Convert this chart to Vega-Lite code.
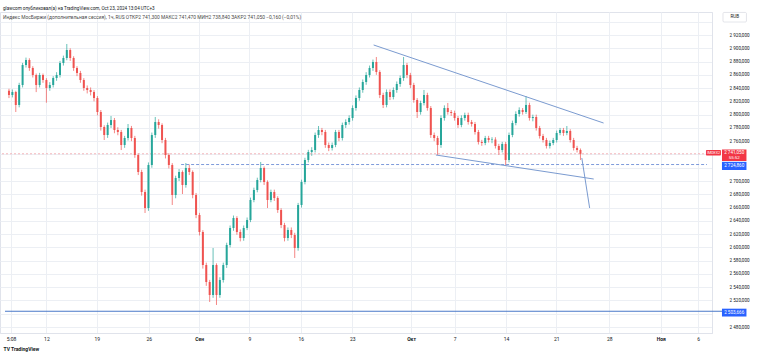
{
"$schema": "https://vega.github.io/schema/vega-lite/v6.json",
"width": 712, "height": 321,
"autosize": {"type": "none"},
"padding": {"left": 0, "top": 12, "right": 46, "bottom": 25},
"background": "white",
"config": {"font": "Roboto", "view": {"stroke": "#e0e3eb"}, "axis": {"labelOverlap": false}},
"title": {"text": "glawcom опубликовал(а) на TradingView.com, Oct 23, 2024 13:04 UTC+3", "subtitle": "Индекс МосБиржи (дополнительная сессия), 1ч, RUS   ОТКР2 741,300  МАКС2 741,470  МИН2 738,840  ЗАКР2 741,050  −0,160 (−0,01%)", "anchor": "start", "frame": "group", "fontSize": 4.6, "fontWeight": "normal", "color": "#131722", "subtitleFontSize": 4.9, "subtitleColor": "#4a4a4a", "subtitlePadding": 5, "offset": -8, "dx": 3},
"datasets": {
"candles": [
{"i":-11,"o":2836,"h":2839,"l":2825,"c":2829.6},
{"i":-10,"o":2829.6,"h":2838,"l":2826,"c":2834.1},
{"i":-9,"o":2834.1,"h":2836,"l":2804,"c":2814.6},
{"i":-8,"o":2814.6,"h":2848,"l":2811,"c":2844.7},
{"i":-7,"o":2844.7,"h":2878,"l":2841,"c":2874.8},
{"i":-6,"o":2874.8,"h":2886,"l":2871,"c":2882.4},
{"i":-5,"o":2882.4,"h":2885,"l":2866,"c":2870.3},
{"i":-4,"o":2870.3,"h":2873,"l":2856,"c":2859.8},
{"i":-3,"o":2859.8,"h":2862,"l":2834,"c":2844.7},
{"i":-2,"o":2844.7,"h":2863,"l":2841,"c":2859.8},
{"i":-1,"o":2859.8,"h":2862,"l":2848,"c":2852.2},
{"i":0,"o":2852.2,"h":2855,"l":2818,"c":2840.2},
{"i":1,"o":2840.2,"h":2849,"l":2836,"c":2844.7},
{"i":2,"o":2844.7,"h":2858,"l":2841,"c":2855.2},
{"i":3,"o":2855.2,"h":2864,"l":2851,"c":2859.8},
{"i":4,"o":2859.8,"h":2881,"l":2856,"c":2877.8},
{"i":5,"o":2877.8,"h":2889,"l":2874,"c":2885.4},
{"i":6,"o":2885.4,"h":2906.5,"l":2882,"c":2897.4},
{"i":7,"o":2897.4,"h":2900,"l":2881,"c":2885.4},
{"i":8,"o":2885.4,"h":2888,"l":2866,"c":2870.3},
{"i":9,"o":2870.3,"h":2873,"l":2858,"c":2862.8},
{"i":10,"o":2862.8,"h":2866,"l":2848,"c":2852.2},
{"i":11,"o":2852.2,"h":2855,"l":2836,"c":2840.2},
{"i":12,"o":2840.2,"h":2844,"l":2832,"c":2837.2},
{"i":13,"o":2837.2,"h":2841,"l":2829,"c":2834.1},
{"i":14,"o":2834.1,"h":2837,"l":2820,"c":2825.1},
{"i":15,"o":2825.1,"h":2828,"l":2799,"c":2804.0},
{"i":16,"o":2804.0,"h":2807,"l":2776,"c":2781.4},
{"i":17,"o":2781.4,"h":2784,"l":2761.8,"c":2769.3},
{"i":18,"o":2769.3,"h":2788,"l":2765,"c":2784.4},
{"i":19,"o":2784.4,"h":2798,"l":2780,"c":2791.9},
{"i":20,"o":2791.9,"h":2795,"l":2772,"c":2776.9},
{"i":21,"o":2776.9,"h":2781,"l":2769,"c":2773.9},
{"i":22,"o":2773.9,"h":2777,"l":2746.7,"c":2754.3},
{"i":23,"o":2754.3,"h":2768,"l":2750,"c":2764.8},
{"i":24,"o":2764.8,"h":2785.9,"l":2761,"c":2779.9},
{"i":25,"o":2779.9,"h":2783,"l":2760,"c":2764.8},
{"i":26,"o":2764.8,"h":2768,"l":2735,"c":2739.2},
{"i":27,"o":2739.2,"h":2742,"l":2709,"c":2713.6},
{"i":28,"o":2713.6,"h":2717,"l":2678,"c":2683.4},
{"i":29,"o":2683.4,"h":2687,"l":2651.8,"c":2659.3},
{"i":30,"o":2659.3,"h":2728,"l":2655,"c":2724.1},
{"i":31,"o":2724.1,"h":2773,"l":2720,"c":2769.3},
{"i":32,"o":2769.3,"h":2796.5,"l":2765,"c":2788.9},
{"i":33,"o":2788.9,"h":2793,"l":2779,"c":2784.4},
{"i":34,"o":2784.4,"h":2787,"l":2757,"c":2761.8},
{"i":35,"o":2761.8,"h":2765,"l":2734,"c":2739.2},
{"i":36,"o":2739.2,"h":2742,"l":2719,"c":2724.1},
{"i":37,"o":2724.1,"h":2727,"l":2663.9,"c":2678.9},
{"i":38,"o":2678.9,"h":2708,"l":2674,"c":2704.5},
{"i":39,"o":2704.5,"h":2718,"l":2700,"c":2713.6},
{"i":40,"o":2713.6,"h":2716,"l":2680.4,"c":2694.0},
{"i":41,"o":2694.0,"h":2727.1,"l":2690,"c":2719.6},
{"i":42,"o":2719.6,"h":2724.9,"l":2709,"c":2713.6},
{"i":43,"o":2713.6,"h":2716,"l":2674,"c":2678.9},
{"i":44,"o":2678.9,"h":2682,"l":2644,"c":2648.8},
{"i":45,"o":2648.8,"h":2652,"l":2618,"c":2623.2},
{"i":46,"o":2623.2,"h":2626,"l":2568,"c":2573.4},
{"i":47,"o":2573.4,"h":2577,"l":2542,"c":2547.8},
{"i":48,"o":2547.8,"h":2551,"l":2517.7,"c":2528.2},
{"i":49,"o":2528.2,"h":2599.1,"l":2524,"c":2573.4},
{"i":50,"o":2573.4,"h":2576,"l":2513.2,"c":2528.2},
{"i":51,"o":2528.2,"h":2555,"l":2524,"c":2550.8},
{"i":52,"o":2550.8,"h":2577,"l":2547,"c":2573.4},
{"i":53,"o":2573.4,"h":2607,"l":2569,"c":2603.6},
{"i":54,"o":2603.6,"h":2633,"l":2600,"c":2629.2},
{"i":55,"o":2629.2,"h":2648,"l":2625,"c":2644.3},
{"i":56,"o":2644.3,"h":2647,"l":2619,"c":2623.2},
{"i":57,"o":2623.2,"h":2627,"l":2609,"c":2614.1},
{"i":58,"o":2614.1,"h":2633,"l":2610,"c":2629.2},
{"i":59,"o":2629.2,"h":2645,"l":2626,"c":2641.2},
{"i":60,"o":2641.2,"h":2675,"l":2638,"c":2671.4},
{"i":61,"o":2671.4,"h":2690,"l":2668,"c":2686.5},
{"i":62,"o":2686.5,"h":2705,"l":2683,"c":2701.5},
{"i":63,"o":2701.5,"h":2728.7,"l":2698,"c":2719.6},
{"i":64,"o":2719.6,"h":2722,"l":2694,"c":2698.5},
{"i":65,"o":2698.5,"h":2701,"l":2659.3,"c":2671.4},
{"i":66,"o":2671.4,"h":2687,"l":2668,"c":2683.4},
{"i":67,"o":2683.4,"h":2687,"l":2670,"c":2674.4},
{"i":68,"o":2674.4,"h":2677,"l":2652,"c":2656.3},
{"i":69,"o":2656.3,"h":2659,"l":2629,"c":2633.7},
{"i":70,"o":2633.7,"h":2637,"l":2609,"c":2614.1},
{"i":71,"o":2614.1,"h":2630,"l":2610,"c":2626.2},
{"i":72,"o":2626.2,"h":2630,"l":2614,"c":2618.6},
{"i":73,"o":2618.6,"h":2622,"l":2584.0,"c":2599.1},
{"i":74,"o":2599.1,"h":2667,"l":2595,"c":2663.9},
{"i":75,"o":2663.9,"h":2702,"l":2660,"c":2698.5},
{"i":76,"o":2698.5,"h":2735,"l":2695,"c":2731.7},
{"i":77,"o":2731.7,"h":2747,"l":2728,"c":2743.7},
{"i":78,"o":2743.7,"h":2751,"l":2738,"c":2746.7},
{"i":79,"o":2746.7,"h":2773,"l":2743,"c":2769.3},
{"i":80,"o":2769.3,"h":2782.9,"l":2765,"c":2776.9},
{"i":81,"o":2776.9,"h":2780,"l":2769,"c":2773.9},
{"i":82,"o":2773.9,"h":2777,"l":2750,"c":2754.3},
{"i":83,"o":2754.3,"h":2758,"l":2745,"c":2749.8},
{"i":84,"o":2749.8,"h":2758,"l":2746,"c":2754.3},
{"i":85,"o":2754.3,"h":2777,"l":2751,"c":2773.9},
{"i":86,"o":2773.9,"h":2777,"l":2760,"c":2764.8},
{"i":87,"o":2764.8,"h":2788,"l":2761,"c":2784.4},
{"i":88,"o":2784.4,"h":2793,"l":2780,"c":2788.9},
{"i":89,"o":2788.9,"h":2799,"l":2785,"c":2795.0},
{"i":90,"o":2795.0,"h":2814,"l":2791,"c":2810.0},
{"i":91,"o":2810.0,"h":2829,"l":2806,"c":2825.1},
{"i":92,"o":2825.1,"h":2841,"l":2821,"c":2837.2},
{"i":93,"o":2837.2,"h":2853,"l":2833,"c":2849.2},
{"i":94,"o":2849.2,"h":2864,"l":2845,"c":2859.8},
{"i":95,"o":2859.8,"h":2874,"l":2856,"c":2870.3},
{"i":96,"o":2870.3,"h":2883,"l":2866,"c":2879.4},
{"i":97,"o":2879.4,"h":2886.9,"l":2860,"c":2864.3},
{"i":98,"o":2864.3,"h":2867,"l":2825,"c":2829.6},
{"i":99,"o":2829.6,"h":2833,"l":2810.0,"c":2814.6},
{"i":100,"o":2814.6,"h":2838,"l":2811,"c":2834.1},
{"i":101,"o":2834.1,"h":2838,"l":2822,"c":2826.6},
{"i":102,"o":2826.6,"h":2841,"l":2823,"c":2837.2},
{"i":103,"o":2837.2,"h":2850,"l":2833,"c":2846.2},
{"i":104,"o":2846.2,"h":2859,"l":2842,"c":2855.2},
{"i":105,"o":2855.2,"h":2886.9,"l":2851,"c":2874.8},
{"i":106,"o":2874.8,"h":2878,"l":2855,"c":2859.8},
{"i":107,"o":2859.8,"h":2863,"l":2840,"c":2844.7},
{"i":108,"o":2844.7,"h":2848,"l":2818,"c":2822.1},
{"i":109,"o":2822.1,"h":2825,"l":2795.0,"c":2804.0},
{"i":110,"o":2804.0,"h":2821,"l":2800,"c":2817.6},
{"i":111,"o":2817.6,"h":2837.2,"l":2814,"c":2829.6},
{"i":112,"o":2829.6,"h":2833,"l":2806,"c":2810.0},
{"i":113,"o":2810.0,"h":2813,"l":2765,"c":2769.3},
{"i":114,"o":2769.3,"h":2773,"l":2760,"c":2764.8},
{"i":115,"o":2764.8,"h":2768,"l":2739.2,"c":2754.3},
{"i":116,"o":2754.3,"h":2799,"l":2750,"c":2795.0},
{"i":117,"o":2795.0,"h":2814,"l":2791,"c":2810.0},
{"i":118,"o":2810.0,"h":2817.6,"l":2800,"c":2804.0},
{"i":119,"o":2804.0,"h":2807,"l":2798,"c":2802.5},
{"i":120,"o":2802.5,"h":2806,"l":2791,"c":2795.0},
{"i":121,"o":2795.0,"h":2798,"l":2780,"c":2784.4},
{"i":122,"o":2784.4,"h":2799,"l":2781,"c":2795.0},
{"i":123,"o":2795.0,"h":2803,"l":2791,"c":2799.5},
{"i":124,"o":2799.5,"h":2803,"l":2785,"c":2788.9},
{"i":125,"o":2788.9,"h":2792,"l":2782,"c":2785.9},
{"i":126,"o":2785.9,"h":2789,"l":2770,"c":2773.9},
{"i":127,"o":2773.9,"h":2777,"l":2755,"c":2758.8},
{"i":128,"o":2758.8,"h":2762,"l":2753,"c":2757.3},
{"i":129,"o":2757.3,"h":2768,"l":2754,"c":2764.8},
{"i":130,"o":2764.8,"h":2768,"l":2758,"c":2761.8},
{"i":131,"o":2761.8,"h":2766,"l":2757,"c":2762.5},
{"i":132,"o":2762.5,"h":2766,"l":2749,"c":2752.8},
{"i":133,"o":2752.8,"h":2756,"l":2739.2,"c":2746.7},
{"i":134,"o":2746.7,"h":2759,"l":2743,"c":2755.8},
{"i":135,"o":2755.8,"h":2759,"l":2722.6,"c":2731.7},
{"i":136,"o":2731.7,"h":2773,"l":2728,"c":2769.3},
{"i":137,"o":2769.3,"h":2791,"l":2766,"c":2787.4},
{"i":138,"o":2787.4,"h":2805,"l":2784,"c":2801.0},
{"i":139,"o":2801.0,"h":2811,"l":2797,"c":2807.0},
{"i":140,"o":2807.0,"h":2810,"l":2800,"c":2804.0},
{"i":141,"o":2804.0,"h":2828.1,"l":2801,"c":2814.6},
{"i":142,"o":2814.6,"h":2818,"l":2791,"c":2795.0},
{"i":143,"o":2795.0,"h":2800,"l":2790,"c":2796.5},
{"i":144,"o":2796.5,"h":2800,"l":2776,"c":2779.9},
{"i":145,"o":2779.9,"h":2783,"l":2764,"c":2767.8},
{"i":146,"o":2767.8,"h":2771,"l":2758,"c":2761.8},
{"i":147,"o":2761.8,"h":2765,"l":2749,"c":2752.8},
{"i":148,"o":2752.8,"h":2761,"l":2749,"c":2757.3},
{"i":149,"o":2757.3,"h":2765,"l":2754,"c":2761.8},
{"i":150,"o":2761.8,"h":2776,"l":2758,"c":2772.4},
{"i":151,"o":2772.4,"h":2780,"l":2769,"c":2776.9},
{"i":152,"o":2776.9,"h":2780,"l":2768,"c":2772.4},
{"i":153,"o":2772.4,"h":2782.9,"l":2769,"c":2775.4},
{"i":154,"o":2775.4,"h":2778,"l":2758,"c":2761.8},
{"i":155,"o":2761.8,"h":2765,"l":2746,"c":2749.8},
{"i":156,"o":2749.8,"h":2753,"l":2743,"c":2746.7},
{"i":157,"o":2746.7,"h":2749,"l":2731.7,"c":2741.05}
],
"trend": [
{"ln":"a","i":96.2,"p":2905.0},{"ln":"a","i":163.8,"p":2787.4},
{"ln":"b","i":114.5,"p":2739.2},{"ln":"b","i":160.9,"p":2703.0},
{"ln":"c","i":157.4,"p":2734.7},{"ln":"c","i":159.7,"p":2659.3}
]
},
"layer": [
{"data": {"name": "candles"},
 "mark": {"type": "rule", "strokeWidth": 0.7},
 "encoding": {
  "x": {"field": "i", "type": "quantitative", "scale": {"domain": [-12.17, 194.2], "nice": false, "zero": false},
   "axis": {"values": [-10.4, 0, 14.8, 30.1, 44.9, 59.7, 74.8, 89.9, 107.2, 120, 135.1, 149.9, 165.5, 180.6, 191.6], "tickCount": 100,
    "labelExpr": "datum.value < -5 ? '5:08' : datum.value == 0 ? '12' : datum.value == 14.8 ? '19' : datum.value == 30.1 ? '26' : datum.value == 44.9 ? 'Сен' : datum.value == 59.7 ? '9' : datum.value == 74.8 ? '16' : datum.value == 89.9 ? '23' : datum.value == 107.2 ? 'Окт' : datum.value == 120 ? '7' : datum.value == 135.1 ? '14' : datum.value == 149.9 ? '21' : datum.value == 165.5 ? '28' : datum.value == 180.6 ? 'Ноя' : '6'",
    "labelFontWeight": {"condition": {"test": "datum.value == 44.9 || datum.value == 107.2 || datum.value == 180.6", "value": "bold"}, "value": "normal"},
    "labelFontSize": 5, "labelColor": "#131722", "labelPadding": 3, "ticks": false, "domainColor": "#e0e3eb", "gridColor": "#eceff4", "grid": true, "labelOverlap": false, "labelFlush": false,
    "title": "TV TradingView", "titleFontSize": 5, "titleFontWeight": "bold", "titleColor": "#131722", "titleAnchor": "start", "titleAlign": "left", "titleX": 3, "titlePadding": 5}},
  "y": {"field": "l", "type": "quantitative", "scale": {"domain": [2470.96, 2954.7], "nice": false, "zero": false},
   "axis": {"orient": "right", "values": [2480, 2500, 2520, 2540, 2560, 2580, 2600, 2620, 2640, 2660, 2680, 2700, 2720, 2740, 2760, 2780, 2800, 2820, 2840, 2860, 2880, 2900, 2920, 2940], "tickCount": 100,
    "labelExpr": "indexof([2500, 2720, 2740, 2940], datum.value) >= 0 ? '' : replace(replace(format(datum.value, ',.3f'), ',', ' '), '.', ',')",
    "labelFontSize": 4.6, "labelColor": "#131722", "labelAlign": "left", "labelPadding": 17, "ticks": false, "domainColor": "#e0e3eb", "gridColor": "#eceff4", "grid": true, "labelOverlap": false, "title": null}},
  "y2": {"field": "h"},
  "color": {"condition": {"test": "datum.c >= datum.o", "value": "#26a69a"}, "value": "#ef5350"}}},
{"data": {"values": [{"price": 2741.05}]},
 "mark": {"type": "rule", "color": "#f3a5ab", "strokeWidth": 0.8, "strokeDash": [2, 2]},
 "encoding": {"y": {"field": "price", "type": "quantitative"}}},
{"data": {"values": [{"start": 39.6, "price": 2724.86}]},
 "mark": {"type": "rule", "color": "#6f8fd6", "strokeWidth": 0.9, "strokeDash": [3, 2]},
 "encoding": {"x": {"field": "start", "type": "quantitative"}, "x2": {"datum": 194.2}, "y": {"field": "price", "type": "quantitative"}}},
{"data": {"values": [{"start": -12.17, "price": 2503.666}]},
 "mark": {"type": "rule", "color": "#4a78c8", "strokeWidth": 1.1},
 "encoding": {"x": {"field": "start", "type": "quantitative"}, "x2": {"datum": 198.6}, "y": {"field": "price", "type": "quantitative"}}},
{"data": {"name": "candles"},
 "mark": {"type": "bar", "size": 2.0, "orient": "vertical"},
 "encoding": {
  "x": {"field": "i", "type": "quantitative"},
  "y": {"field": "o", "type": "quantitative"},
  "y2": {"field": "c"},
  "color": {"condition": {"test": "datum.c >= datum.o", "value": "#26a69a"}, "value": "#ef5350"}}},
{"data": {"name": "trend"},
 "mark": {"type": "line", "color": "#7b9bd0", "strokeWidth": 1},
 "encoding": {"x": {"field": "i", "type": "quantitative"}, "y": {"field": "p", "type": "quantitative"}, "detail": {"field": "ln"}}},
{"data": {"values": [{"label": "RUB"}]},
 "mark": {"type": "rect", "fill": "white", "stroke": "#d1d4dc", "strokeWidth": 0.6, "cornerRadius": 1},
 "encoding": {"x": {"datum": 198.9, "type": "quantitative"}, "x2": {"datum": 205.8}, "y": {"datum": 2954.0, "type": "quantitative"}, "y2": {"datum": 2939.6}}},
{"data": {"values": [{"label": "RUB"}]},
 "mark": {"type": "text", "fontSize": 4.6, "color": "#131722"},
 "encoding": {"x": {"datum": 202.35, "type": "quantitative"}, "y": {"datum": 2946.8, "type": "quantitative"}, "text": {"field": "label"}}},
{"data": {"values": [{"label": "IMOEX2"}]},
 "mark": {"type": "rect", "fill": "#f23645", "cornerRadius": 1},
 "encoding": {"x": {"datum": 193.9, "type": "quantitative"}, "x2": {"datum": 198.3}, "y": {"datum": 2746.7, "type": "quantitative"}, "y2": {"datum": 2738.4}}},
{"data": {"values": [{"label": "IMOEX2"}]},
 "mark": {"type": "text", "fontSize": 3.6, "color": "white"},
 "encoding": {"x": {"datum": 196.1, "type": "quantitative"}, "y": {"datum": 2742.4, "type": "quantitative"}, "text": {"field": "label"}}},
{"data": {"values": [{"label": "2 741,050"}]},
 "mark": {"type": "rect", "fill": "#f23645"},
 "encoding": {"x": {"datum": 198.6, "type": "quantitative"}, "x2": {"datum": 205.8}, "y": {"datum": 2747.5, "type": "quantitative"}, "y2": {"datum": 2730.2}}},
{"data": {"values": [{"label": "2 741,050"}]},
 "mark": {"type": "text", "fontSize": 4.6, "color": "white"},
 "encoding": {"x": {"datum": 202.2, "type": "quantitative"}, "y": {"datum": 2742.0, "type": "quantitative"}, "text": {"field": "label"}}},
{"data": {"values": [{"label": "55:52"}]},
 "mark": {"type": "text", "fontSize": 4.4, "color": "white"},
 "encoding": {"x": {"datum": 202.2, "type": "quantitative"}, "y": {"datum": 2734.6, "type": "quantitative"}, "text": {"field": "label"}}},
{"data": {"values": [{"label": "2 724,860"}]},
 "mark": {"type": "rect", "fill": "#2962ff"},
 "encoding": {"x": {"datum": 198.6, "type": "quantitative"}, "x2": {"datum": 205.8}, "y": {"datum": 2728.9, "type": "quantitative"}, "y2": {"datum": 2716.6}}},
{"data": {"values": [{"label": "2 724,860"}]},
 "mark": {"type": "text", "fontSize": 4.6, "color": "white"},
 "encoding": {"x": {"datum": 202.2, "type": "quantitative"}, "y": {"datum": 2722.7, "type": "quantitative"}, "text": {"field": "label"}}},
{"data": {"values": [{"label": "2 503,666"}]},
 "mark": {"type": "rect", "fill": "#2962ff"},
 "encoding": {"x": {"datum": 198.6, "type": "quantitative"}, "x2": {"datum": 205.8}, "y": {"datum": 2507.6, "type": "quantitative"}, "y2": {"datum": 2495.8}}},
{"data": {"values": [{"label": "2 503,666"}]},
 "mark": {"type": "text", "fontSize": 4.6, "color": "white"},
 "encoding": {"x": {"datum": 202.2, "type": "quantitative"}, "y": {"datum": 2501.7, "type": "quantitative"}, "text": {"field": "label"}}}
]
}
